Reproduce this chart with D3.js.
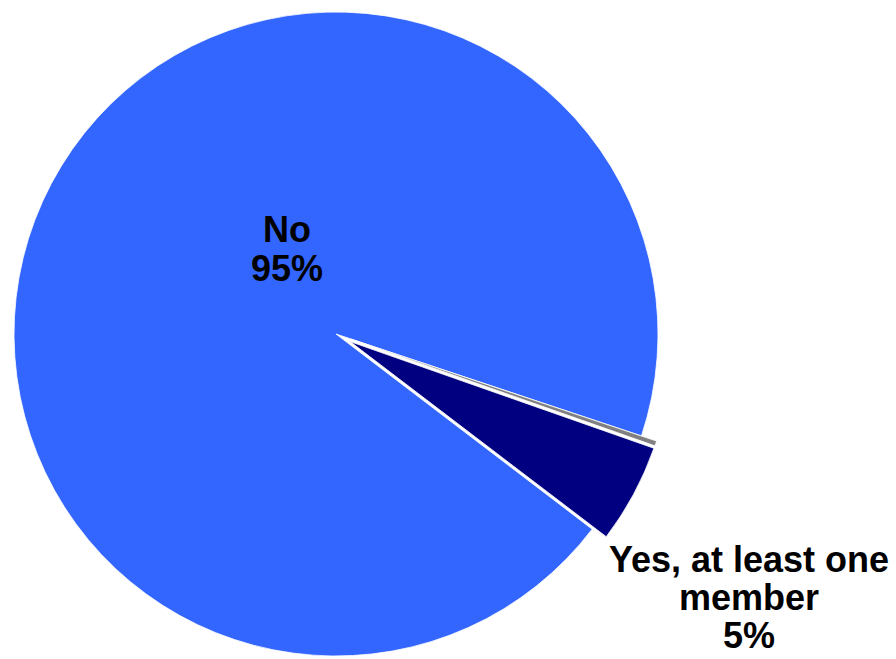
<!DOCTYPE html>
<html><head><meta charset="utf-8">
<script src="https://cdn.jsdelivr.net/npm/d3@7"></script>
<style>html,body{margin:0;padding:0;background:#fff;}svg{display:block;}</style>
</head><body>
<svg id="chart" width="896" height="659"></svg>
<script>
const categories = ["No", "Don't know", "Yes, at least one member"];
const values = [95, 0.25, 5];
const labelText = [["No", "95%"], null, ["Yes, at least one", "member", "5%"]];
const colors = ["#3366FF", "#808080", "#000080"];
const exploded = [false, true, true];

const W = 896, H = 659;
const cx = 336, cy = 334, R = 322, explode = 16;
const svg = d3.select("#chart");

const start = 127.3 * Math.PI / 180;
const pie = d3.pie().sort(null).value(d => d.v).startAngle(start).endAngle(start + 2 * Math.PI);
const data = categories.map((c, i) => ({c, v: values[i], i}));
const arcs = pie(data);
const arc = d3.arc().innerRadius(0).outerRadius(R);

const g = svg.append("g").attr("transform", `translate(${cx},${cy})`);
g.selectAll("path").data(arcs).enter().append("path")
  .attr("d", arc)
  .attr("fill", d => colors[d.data.i])
  .attr("stroke", "#fff").attr("stroke-width", 0.8)
  .attr("transform", d => {
    if (!exploded[d.data.i]) return null;
    const m = (d.startAngle + d.endAngle) / 2;
    return `translate(${explode * Math.sin(m)},${-explode * Math.cos(m)})`;
  });

const labelPos = [[287, 242, 39], null, [749, 572, 38]];
labelText.forEach((lines, i) => {
  if (!lines) return;
  const t = svg.append("text").attr("text-anchor", "middle")
    .attr("font-family", "Liberation Sans, Arial, sans-serif")
    .attr("font-weight", "bold").attr("font-size", 36).attr("fill", "#000");
  lines.forEach((ln, k) => {
    t.append("tspan").attr("x", labelPos[i][0]).attr("y", labelPos[i][1] + k * labelPos[i][2]).text(ln);
  });
});
</script>
</body></html>
